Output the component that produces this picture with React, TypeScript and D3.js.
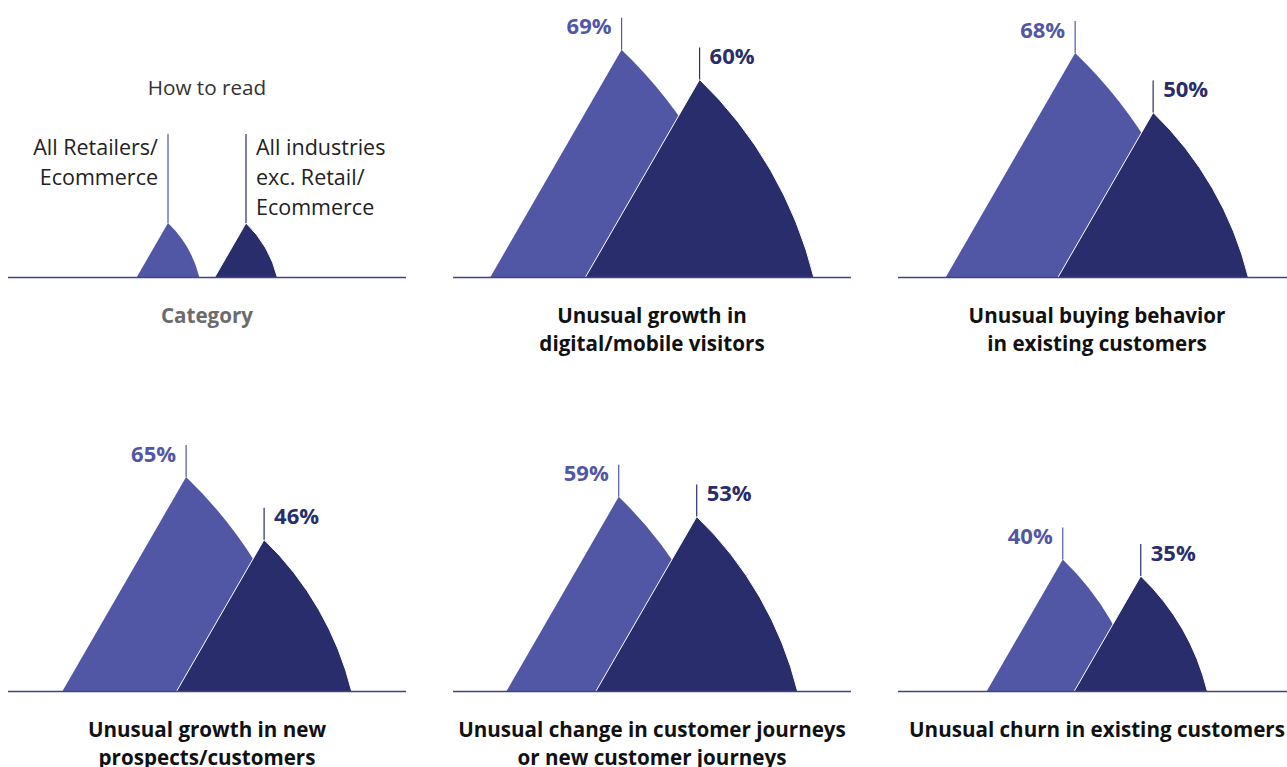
import { useRef, useEffect } from 'react';
import * as d3 from 'd3';

const VW = 1287, VH = 767;

// Share of respondents reporting each signal (%)
const CATEGORIES = [
  ['Unusual growth in', 'digital/mobile visitors'],
  ['Unusual buying behavior', 'in existing customers'],
  ['Unusual growth in new', 'prospects/customers'],
  ['Unusual change in customer journeys', 'or new customer journeys'],
  ['Unusual churn in existing customers'],
];
const RETAIL = [69, 68, 65, 59, 40];
const OTHER = [60, 50, 46, 53, 35];
const SERIES_NAMES = [['All Retailers/', 'Ecommerce'], ['All industries', 'exc. Retail/', 'Ecommerce']];
const LEGEND_VALUE = 16.5;

const LIGHT = '#5157a5';
const DARK = '#2a2d6b';
const FONT = '"Open Sans", "Noto Sans", sans-serif';

const PANEL_W = 398;
const COL_STEP = 445;
const ROW_BASE = [277.5, 691.5];
const PEAK_GAP = 78;   // horizontal distance between the two apexes
const TAN30 = Math.tan(Math.PI / 6);
const BULGE = 1.8;     // right flank arc radius, in multiples of the side

export default function App() {
  const svgRef = useRef<SVGSVGElement>(null);

  useEffect(() => {
    const svg = d3.select(svgRef.current);
    svg.selectAll('*').remove();

    const h = d3.scaleLinear().domain([0, 100]).range([0, 330]);
    const colX = d3.scaleLinear().domain([0, 1]).range([8, 8 + COL_STEP]);

    // peak: straight left flank, slightly bulging right flank, apex at (0,-height)
    const peak = (v: number) => {
      const ht = h(v);
      const half = ht * TAN30;
      const r = half * 2 * BULGE;
      return `M${-half},0L0,${-ht}A${r},${r} 0 0 1 ${half},0Z`;
    };

    const drawPanel = (col: number, row: number, a: number, b: number) => {
      const g = svg.append('g');
      const x0 = colX(col);
      const cx = x0 + PANEL_W / 2;
      const base = ROW_BASE[row];
      const ha = h(a), hb = h(b);
      const left = ha * TAN30, right = hb * TAN30;
      const total = left + PEAK_GAP + right;
      const apexA = cx - total / 2 + left;
      const apexB = apexA + PEAK_GAP;

      g.append('path').attr('d', peak(a))
        .attr('transform', `translate(${apexA},${base})`)
        .attr('fill', LIGHT);
      g.append('path').attr('d', peak(b))
        .attr('transform', `translate(${apexB},${base})`)
        .attr('fill', DARK).attr('stroke', '#fff').attr('stroke-width', 1);

      g.append('line').attr('x1', x0).attr('x2', x0 + PANEL_W)
        .attr('y1', base).attr('y2', base)
        .attr('stroke', '#3f4388').attr('stroke-width', 1.5);

      return { g, apexA, apexB, topA: base - ha, topB: base - hb, cx, base };
    };

    // legend / how to read
    {
      const p = drawPanel(0, 0, LEGEND_VALUE, LEGEND_VALUE);
      const lineTop = 134;
      p.g.append('line').attr('x1', p.apexA).attr('x2', p.apexA).attr('y1', lineTop).attr('y2', p.topA)
        .attr('stroke', LIGHT).attr('stroke-width', 1.2);
      p.g.append('line').attr('x1', p.apexB).attr('x2', p.apexB).attr('y1', lineTop).attr('y2', p.topB)
        .attr('stroke', DARK).attr('stroke-width', 1.2);
      SERIES_NAMES[0].forEach((t, i) => p.g.append('text')
        .attr('x', p.apexA - 10).attr('y', 155 + i * 30).attr('text-anchor', 'end')
        .attr('font-size', 21.5).attr('fill', '#222').text(t));
      SERIES_NAMES[1].forEach((t, i) => p.g.append('text')
        .attr('x', p.apexB + 10).attr('y', 155 + i * 30)
        .attr('font-size', 21.5).attr('fill', '#222').text(t));
      p.g.append('text').attr('x', p.cx).attr('y', 95).attr('text-anchor', 'middle')
        .attr('font-size', 20.7).attr('fill', '#333').text('How to read');
      p.g.append('text').attr('x', p.cx).attr('y', p.base + 45).attr('text-anchor', 'middle')
        .attr('font-size', 20.6).attr('font-weight', 700).attr('fill', '#6b6b6b').text('Category');
    }

    CATEGORIES.forEach((cat, i) => {
      const k = i + 1;
      const p = drawPanel(k % 3, Math.floor(k / 3), RETAIL[i], OTHER[i]);
      const len = 32;
      p.g.append('line').attr('x1', p.apexA).attr('x2', p.apexA).attr('y1', p.topA - len).attr('y2', p.topA)
        .attr('stroke', LIGHT).attr('stroke-width', 1.2);
      p.g.append('line').attr('x1', p.apexB).attr('x2', p.apexB).attr('y1', p.topB - len).attr('y2', p.topB)
        .attr('stroke', DARK).attr('stroke-width', 1.2);
      p.g.append('text').attr('x', p.apexA - 10).attr('y', p.topA - len + 16.5).attr('text-anchor', 'end')
        .attr('font-size', 22).attr('font-weight', 700).attr('fill', LIGHT).text(`${RETAIL[i]}%`);
      p.g.append('text').attr('x', p.apexB + 10).attr('y', p.topB - len + 16.5)
        .attr('font-size', 22).attr('font-weight', 700).attr('fill', DARK).text(`${OTHER[i]}%`);
      cat.forEach((t, j) => p.g.append('text')
        .attr('x', p.cx).attr('y', p.base + 45 + j * 28).attr('text-anchor', 'middle')
        .attr('font-size', 20.6).attr('font-weight', 700).attr('fill', '#111').text(t));
    });
  }, []);

  return (
    <svg
      ref={svgRef}
      width={VW}
      height={VH}
      viewBox={`0 0 ${VW} ${VH}`}
      style={{ position: 'absolute', left: 0, top: 0, fontFamily: FONT, background: '#fff' }}
    />
  );
}
